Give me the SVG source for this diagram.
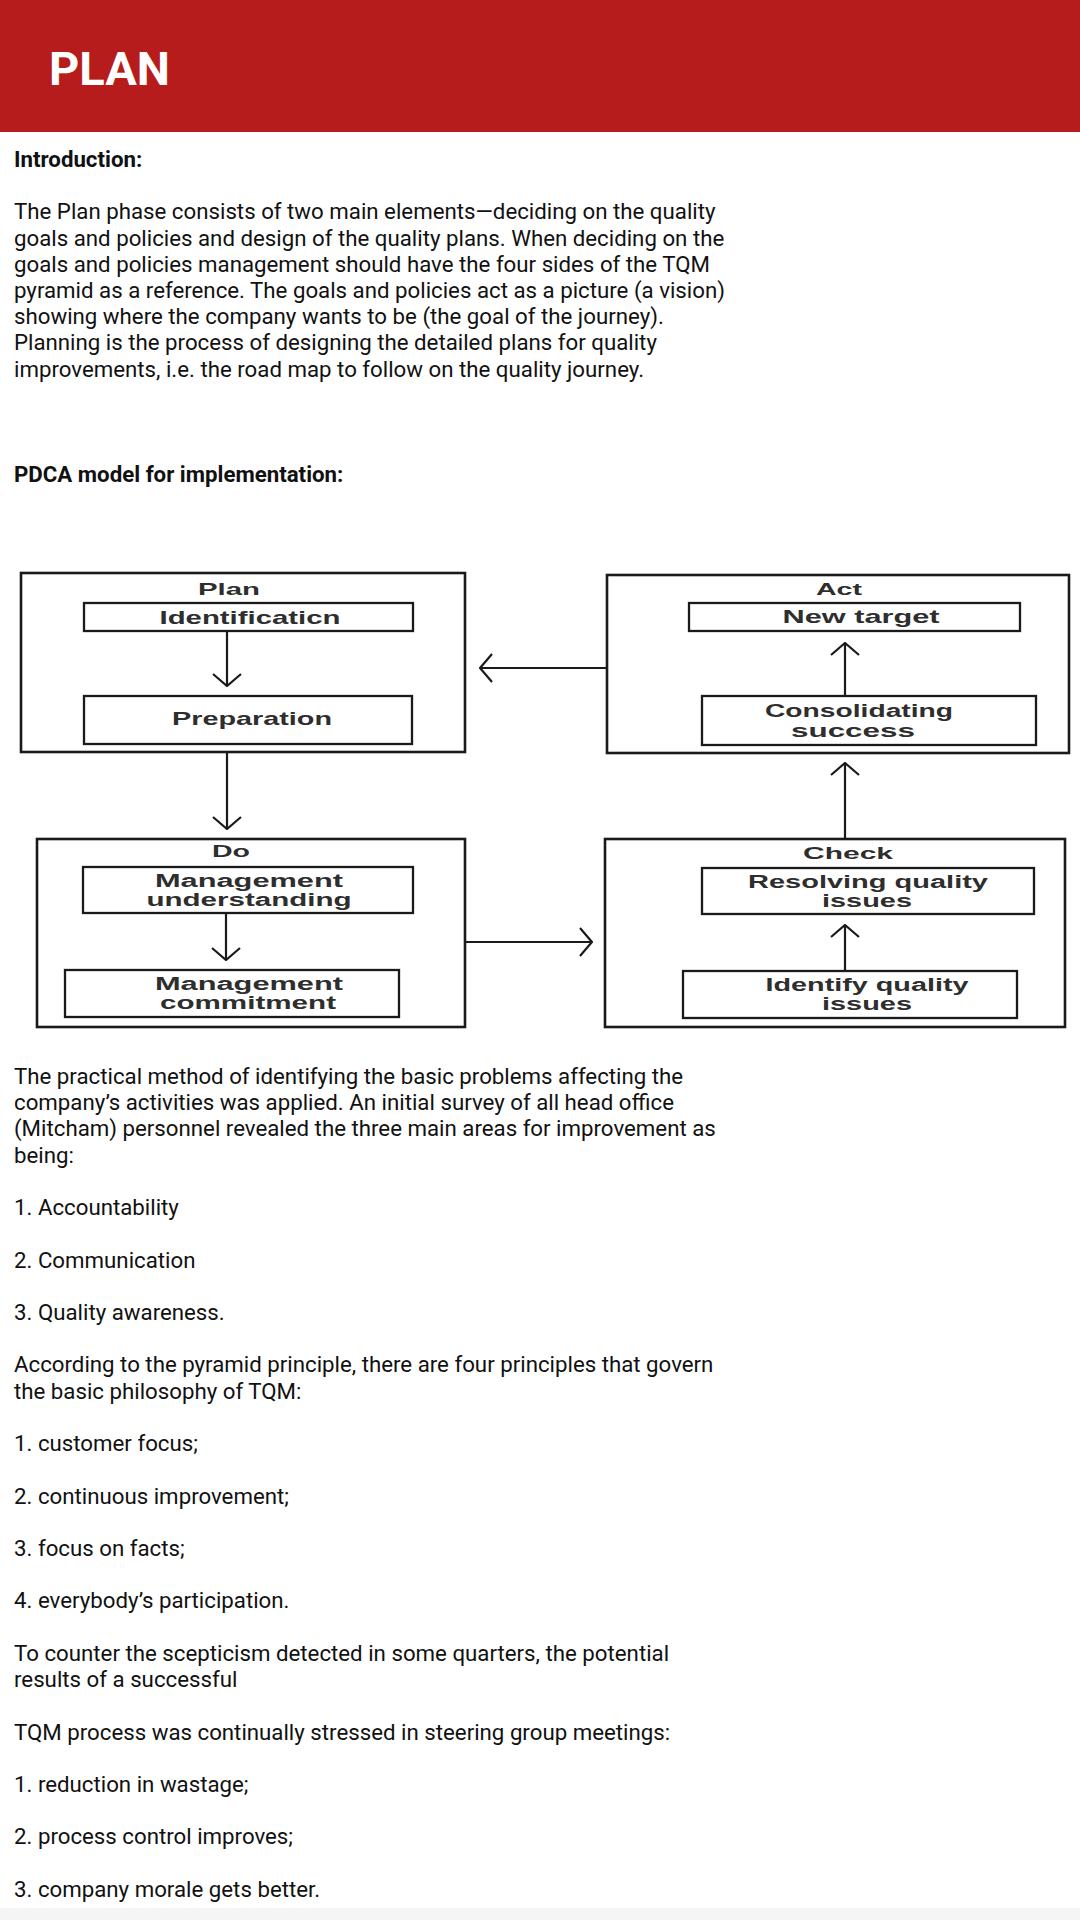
<svg xmlns="http://www.w3.org/2000/svg" width="1080" height="1920" viewBox="0 0 1080 1920">
<defs>
<style>
.body{font-family:Roboto,"Liberation Sans",sans-serif;font-size:22.25px;fill:#111}
.bold{font-weight:bold}
.lbl{font-family:"Liberation Sans",Arial,sans-serif;font-weight:bold;font-size:17px;fill:#2e2e2e;text-anchor:middle}
.txt{font-family:"Liberation Sans",Arial,sans-serif;font-weight:bold;font-size:19px;fill:#2e2e2e;text-anchor:middle}
.two{font-size:17.5px}
.outer{fill:none;stroke:#1a1a1a;stroke-width:2.6}
.inner{fill:none;stroke:#1a1a1a;stroke-width:2.3}
.conn{fill:none;stroke:#1a1a1a;stroke-width:2.2;marker-end:url(#arr)}
</style>
<marker id="arr" markerUnits="userSpaceOnUse" viewBox="0 0 14 30" refX="13" refY="15" markerWidth="14" markerHeight="30" orient="auto">
<path d="M1,1 L13,15 L1,29" fill="none" stroke="#1a1a1a" stroke-width="2.2"/>
</marker>
</defs>
<rect x="0" y="0" width="1080" height="1920" fill="#ffffff"/>
<rect x="0" y="0" width="1080" height="132" fill="#b71c1c"/>
<text x="49" y="85" font-family="Roboto,'Liberation Sans',sans-serif" font-weight="bold" font-size="47" fill="#ffffff">PLAN</text>

<g id="intro">
<text class="body bold" x="14" y="167">Introduction:</text>
<text class="body" x="14" y="219.3">The Plan phase consists of two main elements—deciding on the quality</text>
<text class="body" x="14" y="245.5">goals and policies and design of the quality plans. When deciding on the</text>
<text class="body" x="14" y="271.7">goals and policies management should have the four sides of the TQM</text>
<text class="body" x="14" y="297.9">pyramid as a reference. The goals and policies act as a picture (a vision)</text>
<text class="body" x="14" y="324.2">showing where the company wants to be (the goal of the journey).</text>
<text class="body" x="14" y="350.4">Planning is the process of designing the detailed plans for quality</text>
<text class="body" x="14" y="376.6">improvements, i.e. the road map to follow on the quality journey.</text>
<text class="body bold" x="14" y="481.7">PDCA model for implementation:</text>
</g>

<g id="connectors">
<line class="conn" x1="227" y1="631" x2="227" y2="686"/>
<line class="conn" x1="227" y1="752" x2="227" y2="829"/>
<line class="conn" x1="226" y1="913" x2="226" y2="960"/>
<line class="conn" x1="465" y1="942" x2="592" y2="942"/>
<line class="conn" x1="845" y1="970" x2="845" y2="925"/>
<line class="conn" x1="845" y1="839" x2="845" y2="763"/>
<line class="conn" x1="845" y1="696" x2="845" y2="643"/>
<line class="conn" x1="607" y1="668" x2="480" y2="668"/>
</g>

<g id="plan">
<rect class="outer" x="21" y="573" width="444" height="179"/>
<text class="lbl" x="229" y="595" textLength="62" lengthAdjust="spacingAndGlyphs">Plan</text>
</g>
<g id="identification">
<rect class="inner" x="84" y="603" width="329" height="28"/>
<text class="txt" x="250" y="624" textLength="181" lengthAdjust="spacingAndGlyphs">Identificaticn</text>
</g>
<g id="preparation">
<rect class="inner" x="84" y="696" width="328" height="48"/>
<text class="txt" x="252" y="725" textLength="160" lengthAdjust="spacingAndGlyphs">Preparation</text>
</g>

<g id="do">
<rect class="outer" x="37" y="839" width="428" height="188"/>
<text class="lbl" x="231" y="857" textLength="38" lengthAdjust="spacingAndGlyphs">Do</text>
</g>
<g id="mgmt-understanding">
<rect class="inner" x="83" y="867" width="330" height="46"/>
<text class="txt two" x="249" y="887" textLength="188" lengthAdjust="spacingAndGlyphs">Management</text>
<text class="txt two" x="249" y="906" textLength="205" lengthAdjust="spacingAndGlyphs">understanding</text>
</g>
<g id="mgmt-commitment">
<rect class="inner" x="65" y="970" width="334" height="47"/>
<text class="txt two" x="249" y="990" textLength="188" lengthAdjust="spacingAndGlyphs">Management</text>
<text class="txt two" x="248" y="1009" textLength="176" lengthAdjust="spacingAndGlyphs">commitment</text>
</g>

<g id="check">
<rect class="outer" x="605" y="839" width="460" height="188"/>
<text class="lbl" x="848" y="859" textLength="90" lengthAdjust="spacingAndGlyphs">Check</text>
</g>
<g id="resolving">
<rect class="inner" x="702" y="868" width="332" height="46"/>
<text class="txt two" x="868" y="888" textLength="240" lengthAdjust="spacingAndGlyphs">Resolving quality</text>
<text class="txt two" x="867" y="907" textLength="90" lengthAdjust="spacingAndGlyphs">issues</text>
</g>
<g id="identify">
<rect class="inner" x="683" y="971" width="334" height="47"/>
<text class="txt two" x="867" y="991" textLength="203" lengthAdjust="spacingAndGlyphs">Identify quality</text>
<text class="txt two" x="867" y="1010" textLength="90" lengthAdjust="spacingAndGlyphs">issues</text>
</g>

<g id="act">
<rect class="outer" x="607" y="575" width="462" height="178"/>
<text class="lbl" x="839" y="595" textLength="46" lengthAdjust="spacingAndGlyphs">Act</text>
</g>
<g id="new-target">
<rect class="inner" x="689" y="603" width="331" height="28"/>
<text class="txt" x="861" y="623" textLength="157" lengthAdjust="spacingAndGlyphs">New target</text>
</g>
<g id="consolidating">
<rect class="inner" x="702" y="696" width="334" height="49"/>
<text class="txt two" x="859" y="717" textLength="188" lengthAdjust="spacingAndGlyphs">Consolidating</text>
<text class="txt two" x="853" y="737" textLength="124" lengthAdjust="spacingAndGlyphs">success</text>
</g>

<g id="body2">
<text class="body" x="14" y="1084">The practical method of identifying the basic problems affecting the</text>
<text class="body" x="14" y="1110.2">company’s activities was applied. An initial survey of all head office</text>
<text class="body" x="14" y="1136.4">(Mitcham) personnel revealed the three main areas for improvement as</text>
<text class="body" x="14" y="1162.7">being:</text>
<text class="body" x="14" y="1215.1">1. Accountability</text>
<text class="body" x="14" y="1267.5">2. Communication</text>
<text class="body" x="14" y="1320">3. Quality awareness.</text>
<text class="body" x="14" y="1372.4">According to the pyramid principle, there are four principles that govern</text>
<text class="body" x="14" y="1398.6">the basic philosophy of TQM:</text>
<text class="body" x="14" y="1451.1">1. customer focus;</text>
<text class="body" x="14" y="1503.5">2. continuous improvement;</text>
<text class="body" x="14" y="1555.9">3. focus on facts;</text>
<text class="body" x="14" y="1608.4">4. everybody’s participation.</text>
<text class="body" x="14" y="1660.8">To counter the scepticism detected in some quarters, the potential</text>
<text class="body" x="14" y="1687">results of a successful</text>
<text class="body" x="14" y="1739.5">TQM process was continually stressed in steering group meetings:</text>
<text class="body" x="14" y="1791.9">1. reduction in wastage;</text>
<text class="body" x="14" y="1844.3">2. process control improves;</text>
<text class="body" x="14" y="1896.8">3. company morale gets better.</text>
</g>
<rect x="0" y="1908" width="1080" height="12" fill="#f5f5f5"/>
</svg>
